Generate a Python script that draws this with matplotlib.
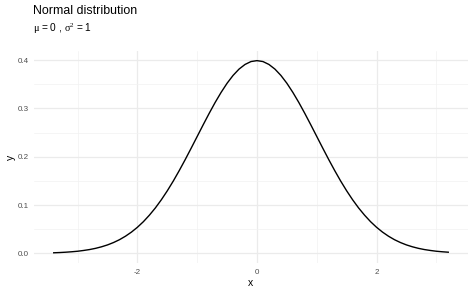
import matplotlib
matplotlib.use("Agg")
import matplotlib.pyplot as plt

plt.rcParams["font.family"] = ["Liberation Sans", "DejaVu Sans"]
plt.rcParams["mathtext.fontset"] = "custom"
plt.rcParams["mathtext.rm"] = "Liberation Serif"
plt.rcParams["mathtext.it"] = "Liberation Serif"
plt.rcParams["mathtext.default"] = "rm"

x_vals = [-3.4, -3.3, -3.2, -3.1, -3.0, -2.9, -2.8, -2.7, -2.6, -2.5, -2.4, -2.3, -2.2, -2.1,
          -2.0, -1.9, -1.8, -1.7, -1.6, -1.5, -1.4, -1.3, -1.2, -1.1, -1.0, -0.9, -0.8, -0.7,
          -0.6, -0.5, -0.4, -0.3, -0.2, -0.1, 0.0, 0.1, 0.2, 0.3, 0.4, 0.5, 0.6, 0.7, 0.8, 0.9,
          1.0, 1.1, 1.2, 1.3, 1.4, 1.5, 1.6, 1.7, 1.8, 1.9, 2.0, 2.1, 2.2, 2.3, 2.4, 2.5, 2.6,
          2.7, 2.8, 2.9, 3.0, 3.1, 3.2]
y_vals = [0.0012, 0.0017, 0.0024, 0.0033, 0.0044, 0.0060, 0.0079, 0.0104, 0.0136, 0.0175,
          0.0224, 0.0283, 0.0355, 0.0440, 0.0540, 0.0656, 0.0790, 0.0940, 0.1109, 0.1295,
          0.1497, 0.1714, 0.1942, 0.2179, 0.2420, 0.2661, 0.2897, 0.3123, 0.3332, 0.3521,
          0.3683, 0.3814, 0.3910, 0.3970, 0.3989, 0.3970, 0.3910, 0.3814, 0.3683, 0.3521,
          0.3332, 0.3123, 0.2897, 0.2661, 0.2420, 0.2179, 0.1942, 0.1714, 0.1497, 0.1295,
          0.1109, 0.0940, 0.0790, 0.0656, 0.0540, 0.0440, 0.0355, 0.0283, 0.0224, 0.0175,
          0.0136, 0.0104, 0.0079, 0.0060, 0.0044, 0.0033, 0.0024]
x_ticks = [-2, 0, 2]
x_minor = [-3, -1, 1, 3]
y_ticks = [0.0, 0.1, 0.2, 0.3, 0.4]
y_minor = [0.05, 0.15, 0.25, 0.35]
title = "Normal distribution"
subtitle = r"$\mu$ = 0 , $\sigma^2$ = 1"

W, H = 474, 292
fig = plt.figure(figsize=(W / 100, H / 100), dpi=100)
ax = fig.add_axes([34 / W, (H - 263) / H, (468 - 34) / W, (263 - 51) / H])

ax.plot(x_vals, y_vals, color="black", lw=1.0)

xr = max(x_vals) - min(x_vals)
ax.set_xlim(min(x_vals) - 0.05 * xr, max(x_vals) + 0.05 * xr)
yr = max(y_vals) - 0
ax.set_ylim(0 - 0.05 * yr, max(y_vals) + 0.05 * yr)

ax.set_xticks(x_ticks)
ax.set_xticklabels(["-2", "0", "2"])
ax.set_xticks(x_minor, minor=True)
ax.set_yticks(y_ticks)
ax.set_yticklabels(["0.0", "0.1", "0.2", "0.3", "0.4"])
ax.set_yticks(y_minor, minor=True)

ax.grid(which="major", color="#ebebeb", lw=0.9)
ax.grid(which="minor", color="#f2f2f2", lw=0.5)
ax.set_axisbelow(True)
for s in ax.spines.values():
    s.set_visible(False)
ax.tick_params(which="both", length=0, labelsize=5.8, labelcolor="#4d4d4d", pad=4)

ax.set_xlabel("x", fontsize=7.5, labelpad=2)
ax.set_ylabel("y", fontsize=7.5, labelpad=1)

fig.text(33 / W, 1 - 10.5 / H, title, fontsize=8.9, va="center", ha="left")
fig.text(33 / W, 1 - 28.5 / H, subtitle, fontsize=7.3, va="center", ha="left")

fig.savefig("out.png", dpi=100)
